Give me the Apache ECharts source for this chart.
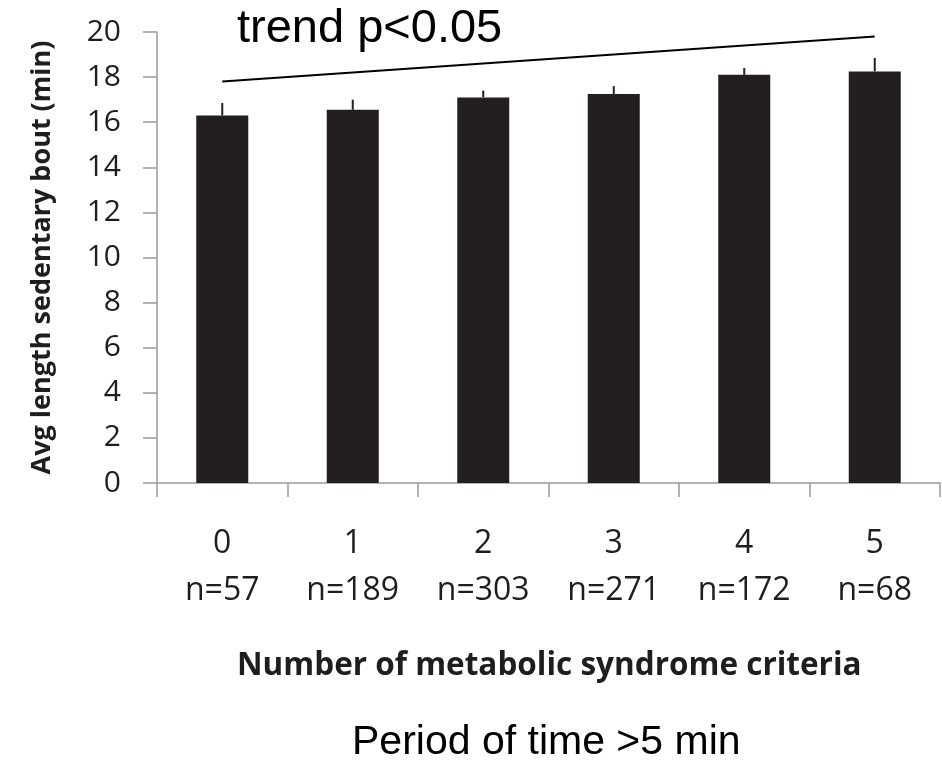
<!DOCTYPE html>
<html>
<head>
<meta charset="utf-8">
<script src="https://cdn.jsdelivr.net/npm/echarts@6/dist/echarts.min.js"></script>
<style>
  html, body { margin: 0; padding: 0; background: #fff; }
  #chart { width: 942px; height: 766px; }
</style>
</head>
<body>
<div id="chart"></div>
<script>
// data
var criteria = ['0', '1', '2', '3', '4', '5'];
var groupSizes = ['n=57', 'n=189', 'n=303', 'n=271', 'n=172', 'n=68'];
var boutLength = [16.3, 16.55, 17.1, 17.25, 18.1, 18.25];
var errorTop = [16.85, 17.0, 17.4, 17.6, 18.4, 18.85];
var trendEnds = [17.8, 19.8];
var yTicks = [0, 2, 4, 6, 8, 10, 12, 14, 16, 18, 20];

(function () {
  var myChart = echarts.init(document.getElementById('chart'));

  var labels = criteria.map(function (c, i) { return c + '\n' + groupSizes[i]; });
  var errData = criteria.map(function (c, i) { return [i, boutLength[i], errorTop[i]]; });
  var trendData = criteria.map(function (c, i) {
    if (i === 0) return trendEnds[0];
    if (i === criteria.length - 1) return trendEnds[1];
    return null;
  });

  var option = {
    animation: false,
    grid: { left: 157, right: 2, top: 32, bottom: 283 },
    graphic: [
      {
        type: 'text', left: 237, top: 6,
        style: { text: 'trend p<0.05', font: '47px "Liberation Sans", Arial, sans-serif', fill: '#000' }
      },
      {
        type: 'text', left: 237, top: 650,
        style: { text: 'Number of metabolic syndrome criteria', font: 'bold 31.5px "Open Sans", sans-serif', fill: '#1e1e1e' }
      },
      {
        type: 'text', left: 352, top: 722,
        style: { text: 'Period of time >5 min', font: '41px "Liberation Sans", Arial, sans-serif', fill: '#000' }
      }
    ],
    xAxis: {
      type: 'category',
      data: labels,
      axisLine: { lineStyle: { color: '#9a9a9a', width: 1.5 } },
      axisTick: { show: true, length: 14, lineStyle: { color: '#9a9a9a', width: 1.5 } },
      axisLabel: {
        margin: 37, color: '#1e1e1e', fontSize: 32, lineHeight: 47,
        fontFamily: '"Open Sans", sans-serif'
      }
    },
    yAxis: {
      type: 'value',
      min: yTicks[0], max: yTicks[yTicks.length - 1], interval: 2,
      name: 'Avg length sedentary bout (min)',
      nameLocation: 'middle', nameGap: 101,
      nameTextStyle: { fontSize: 27, fontWeight: 'bold', color: '#1e1e1e', fontFamily: '"Open Sans", sans-serif' },
      axisLine: { show: true, lineStyle: { color: '#9a9a9a', width: 1.5 } },
      axisTick: { show: true, length: 14, lineStyle: { color: '#9a9a9a', width: 1.5 } },
      splitLine: { show: false },
      axisLabel: { margin: 36, color: '#1e1e1e', fontSize: 30, fontFamily: '"Open Sans", sans-serif' }
    },
    series: [
      {
        type: 'bar',
        data: boutLength,
        barWidth: 52,
        itemStyle: { color: '#231f20' }
      },
      {
        type: 'custom',
        data: errData,
        z: 3,
        renderItem: function (params, api) {
          var p0 = api.coord([api.value(0), api.value(1)]);
          var p1 = api.coord([api.value(0), api.value(2)]);
          return {
            type: 'line',
            shape: { x1: p0[0], y1: p0[1], x2: p1[0], y2: p1[1] },
            style: { stroke: '#231f20', lineWidth: 2 }
          };
        }
      },
      {
        type: 'line',
        data: trendData,
        connectNulls: true,
        symbol: 'none',
        lineStyle: { color: '#000', width: 2 }
      }
    ]
  };
  myChart.setOption(option);
})();
</script>
</body>
</html>
